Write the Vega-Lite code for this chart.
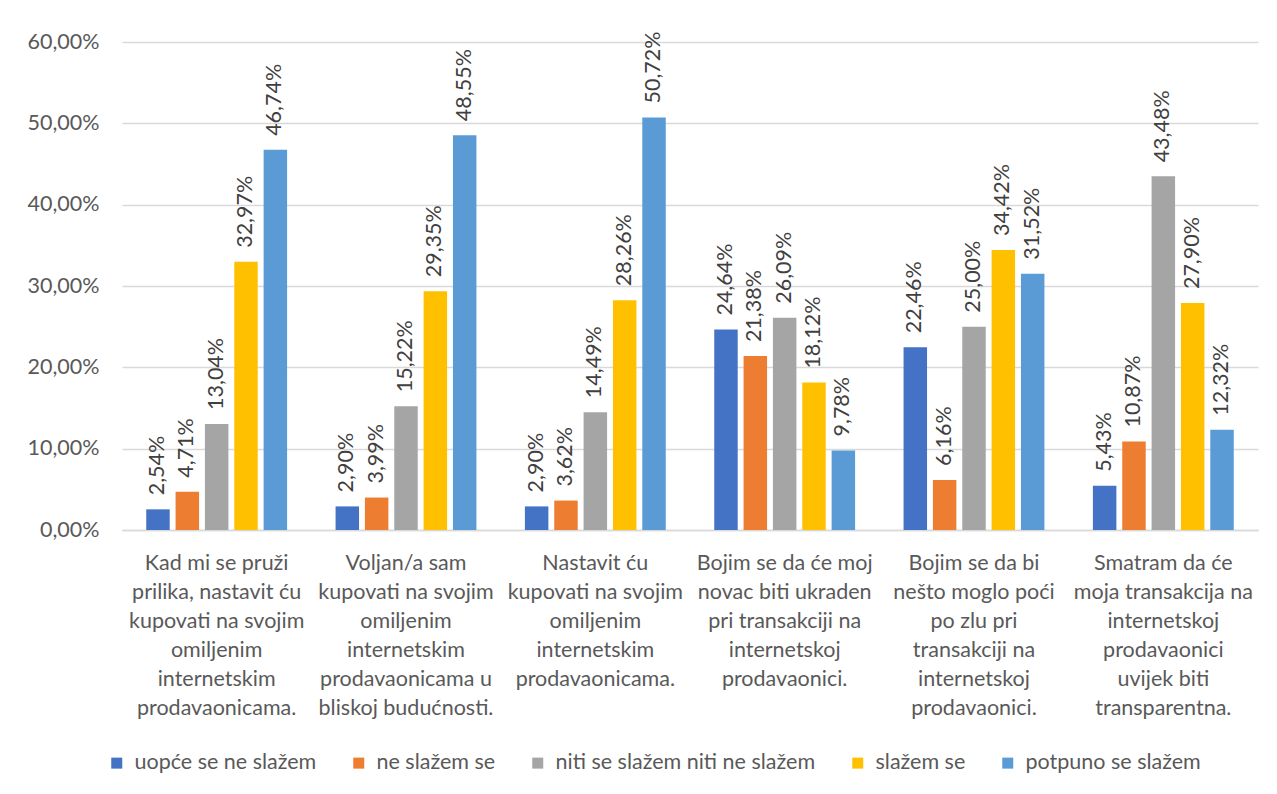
{
  "$schema": "https://vega.github.io/schema/vega-lite/v6.json",
  "width": 1136,
  "height": 488,
  "autosize": {"type": "none"},
  "padding": {"left": 122, "top": 42, "right": 19, "bottom": 264},
  "background": "white",
  "config": {
    "font": "Lato",
    "locale": {"number": {"decimal": ",", "thousands": ".", "grouping": [3], "currency": ["", " kn"]}},
    "view": {"stroke": null},
    "axis": {"labelFont": "Lato", "labelColor": "#595959", "labelFontSize": 21.5}
  },
  "data": {
    "values": [
      {"statement": "Kad mi se pruži\nprilika, nastavit ću\nkupovati na svojim\nomiljenim\ninternetskim\nprodavaonicama.", "answer": "uopće se ne slažem", "share": 0.0254},
      {"statement": "Kad mi se pruži\nprilika, nastavit ću\nkupovati na svojim\nomiljenim\ninternetskim\nprodavaonicama.", "answer": "ne slažem se", "share": 0.0471},
      {"statement": "Kad mi se pruži\nprilika, nastavit ću\nkupovati na svojim\nomiljenim\ninternetskim\nprodavaonicama.", "answer": "niti se slažem niti ne slažem", "share": 0.1304},
      {"statement": "Kad mi se pruži\nprilika, nastavit ću\nkupovati na svojim\nomiljenim\ninternetskim\nprodavaonicama.", "answer": "slažem se", "share": 0.3297},
      {"statement": "Kad mi se pruži\nprilika, nastavit ću\nkupovati na svojim\nomiljenim\ninternetskim\nprodavaonicama.", "answer": "potpuno se slažem", "share": 0.4674},
      {"statement": "Voljan/a sam\nkupovati na svojim\nomiljenim\ninternetskim\nprodavaonicama u\nbliskoj budućnosti.", "answer": "uopće se ne slažem", "share": 0.0290},
      {"statement": "Voljan/a sam\nkupovati na svojim\nomiljenim\ninternetskim\nprodavaonicama u\nbliskoj budućnosti.", "answer": "ne slažem se", "share": 0.0399},
      {"statement": "Voljan/a sam\nkupovati na svojim\nomiljenim\ninternetskim\nprodavaonicama u\nbliskoj budućnosti.", "answer": "niti se slažem niti ne slažem", "share": 0.1522},
      {"statement": "Voljan/a sam\nkupovati na svojim\nomiljenim\ninternetskim\nprodavaonicama u\nbliskoj budućnosti.", "answer": "slažem se", "share": 0.2935},
      {"statement": "Voljan/a sam\nkupovati na svojim\nomiljenim\ninternetskim\nprodavaonicama u\nbliskoj budućnosti.", "answer": "potpuno se slažem", "share": 0.4855},
      {"statement": "Nastavit ću\nkupovati na svojim\nomiljenim\ninternetskim\nprodavaonicama.", "answer": "uopće se ne slažem", "share": 0.0290},
      {"statement": "Nastavit ću\nkupovati na svojim\nomiljenim\ninternetskim\nprodavaonicama.", "answer": "ne slažem se", "share": 0.0362},
      {"statement": "Nastavit ću\nkupovati na svojim\nomiljenim\ninternetskim\nprodavaonicama.", "answer": "niti se slažem niti ne slažem", "share": 0.1449},
      {"statement": "Nastavit ću\nkupovati na svojim\nomiljenim\ninternetskim\nprodavaonicama.", "answer": "slažem se", "share": 0.2826},
      {"statement": "Nastavit ću\nkupovati na svojim\nomiljenim\ninternetskim\nprodavaonicama.", "answer": "potpuno se slažem", "share": 0.5072},
      {"statement": "Bojim se da će moj\nnovac biti ukraden\npri transakciji na\ninternetskoj\nprodavaonici.", "answer": "uopće se ne slažem", "share": 0.2464},
      {"statement": "Bojim se da će moj\nnovac biti ukraden\npri transakciji na\ninternetskoj\nprodavaonici.", "answer": "ne slažem se", "share": 0.2138},
      {"statement": "Bojim se da će moj\nnovac biti ukraden\npri transakciji na\ninternetskoj\nprodavaonici.", "answer": "niti se slažem niti ne slažem", "share": 0.2609},
      {"statement": "Bojim se da će moj\nnovac biti ukraden\npri transakciji na\ninternetskoj\nprodavaonici.", "answer": "slažem se", "share": 0.1812},
      {"statement": "Bojim se da će moj\nnovac biti ukraden\npri transakciji na\ninternetskoj\nprodavaonici.", "answer": "potpuno se slažem", "share": 0.0978},
      {"statement": "Bojim se da bi\nnešto moglo poći\npo zlu pri\ntransakciji na\ninternetskoj\nprodavaonici.", "answer": "uopće se ne slažem", "share": 0.2246},
      {"statement": "Bojim se da bi\nnešto moglo poći\npo zlu pri\ntransakciji na\ninternetskoj\nprodavaonici.", "answer": "ne slažem se", "share": 0.0616},
      {"statement": "Bojim se da bi\nnešto moglo poći\npo zlu pri\ntransakciji na\ninternetskoj\nprodavaonici.", "answer": "niti se slažem niti ne slažem", "share": 0.2500},
      {"statement": "Bojim se da bi\nnešto moglo poći\npo zlu pri\ntransakciji na\ninternetskoj\nprodavaonici.", "answer": "slažem se", "share": 0.3442},
      {"statement": "Bojim se da bi\nnešto moglo poći\npo zlu pri\ntransakciji na\ninternetskoj\nprodavaonici.", "answer": "potpuno se slažem", "share": 0.3152},
      {"statement": "Smatram da će\nmoja transakcija na\ninternetskoj\nprodavaonici\nuvijek biti\ntransparentna.", "answer": "uopće se ne slažem", "share": 0.0543},
      {"statement": "Smatram da će\nmoja transakcija na\ninternetskoj\nprodavaonici\nuvijek biti\ntransparentna.", "answer": "ne slažem se", "share": 0.1087},
      {"statement": "Smatram da će\nmoja transakcija na\ninternetskoj\nprodavaonici\nuvijek biti\ntransparentna.", "answer": "niti se slažem niti ne slažem", "share": 0.4348},
      {"statement": "Smatram da će\nmoja transakcija na\ninternetskoj\nprodavaonici\nuvijek biti\ntransparentna.", "answer": "slažem se", "share": 0.2790},
      {"statement": "Smatram da će\nmoja transakcija na\ninternetskoj\nprodavaonici\nuvijek biti\ntransparentna.", "answer": "potpuno se slažem", "share": 0.1232}
    ]
  },
  "encoding": {
    "x": {
      "field": "statement",
      "type": "nominal",
      "sort": null,
      "scale": {"paddingInner": 0.256, "paddingOuter": 0.128},
      "axis": {
        "title": null,
        "labelAngle": 0,
        "labelExpr": "split(datum.label, '\\n')",
        "labelLineHeight": 29,
        "labelBaseline": "top",
        "labelPadding": 22,
        "labelLimit": 300,
        "ticks": false,
        "domainColor": "#d9d9d9",
        "domainWidth": 1.5
      }
    },
    "xOffset": {
      "field": "answer",
      "type": "nominal",
      "sort": ["uopće se ne slažem", "ne slažem se", "niti se slažem niti ne slažem", "slažem se", "potpuno se slažem"],
      "scale": {"paddingInner": 0.2, "paddingOuter": 0}
    },
    "y": {
      "field": "share",
      "type": "quantitative",
      "scale": {"domain": [0, 0.6], "nice": false},
      "axis": {
        "title": null,
        "values": [0, 0.1, 0.2, 0.3, 0.4, 0.5, 0.6],
        "format": ".2%",
        "labelPadding": 23,
        "domain": false,
        "ticks": false,
        "gridColor": "#d9d9d9",
        "gridWidth": 1.3
      }
    }
  },
  "layer": [
    {
      "mark": {"type": "bar"},
      "encoding": {
        "color": {
          "field": "answer",
          "type": "nominal",
          "scale": {
            "domain": ["uopće se ne slažem", "ne slažem se", "niti se slažem niti ne slažem", "slažem se", "potpuno se slažem"],
            "range": ["#4472C4", "#ED7D31", "#A5A5A5", "#FFC000", "#5B9BD5"]
          },
          "legend": {
            "title": null,
            "orient": "none",
            "direction": "horizontal",
            "legendX": -16,
            "legendY": 710,
            "symbolType": "square",
            "symbolSize": 121,
            "symbolStrokeWidth": 0,
            "labelFont": "Lato",
            "labelFontSize": 21.5,
            "labelColor": "#595959",
            "labelOffset": 7,
            "columnPadding": 31,
            "labelLimit": 400
          }
        }
      }
    },
    {
      "mark": {"type": "text", "angle": 270, "align": "left", "baseline": "middle", "dx": 14, "fontSize": 21.5, "color": "#404040", "font": "Lato"},
      "encoding": {
        "text": {"field": "share", "type": "quantitative", "format": ".2%"}
      }
    }
  ]
}
